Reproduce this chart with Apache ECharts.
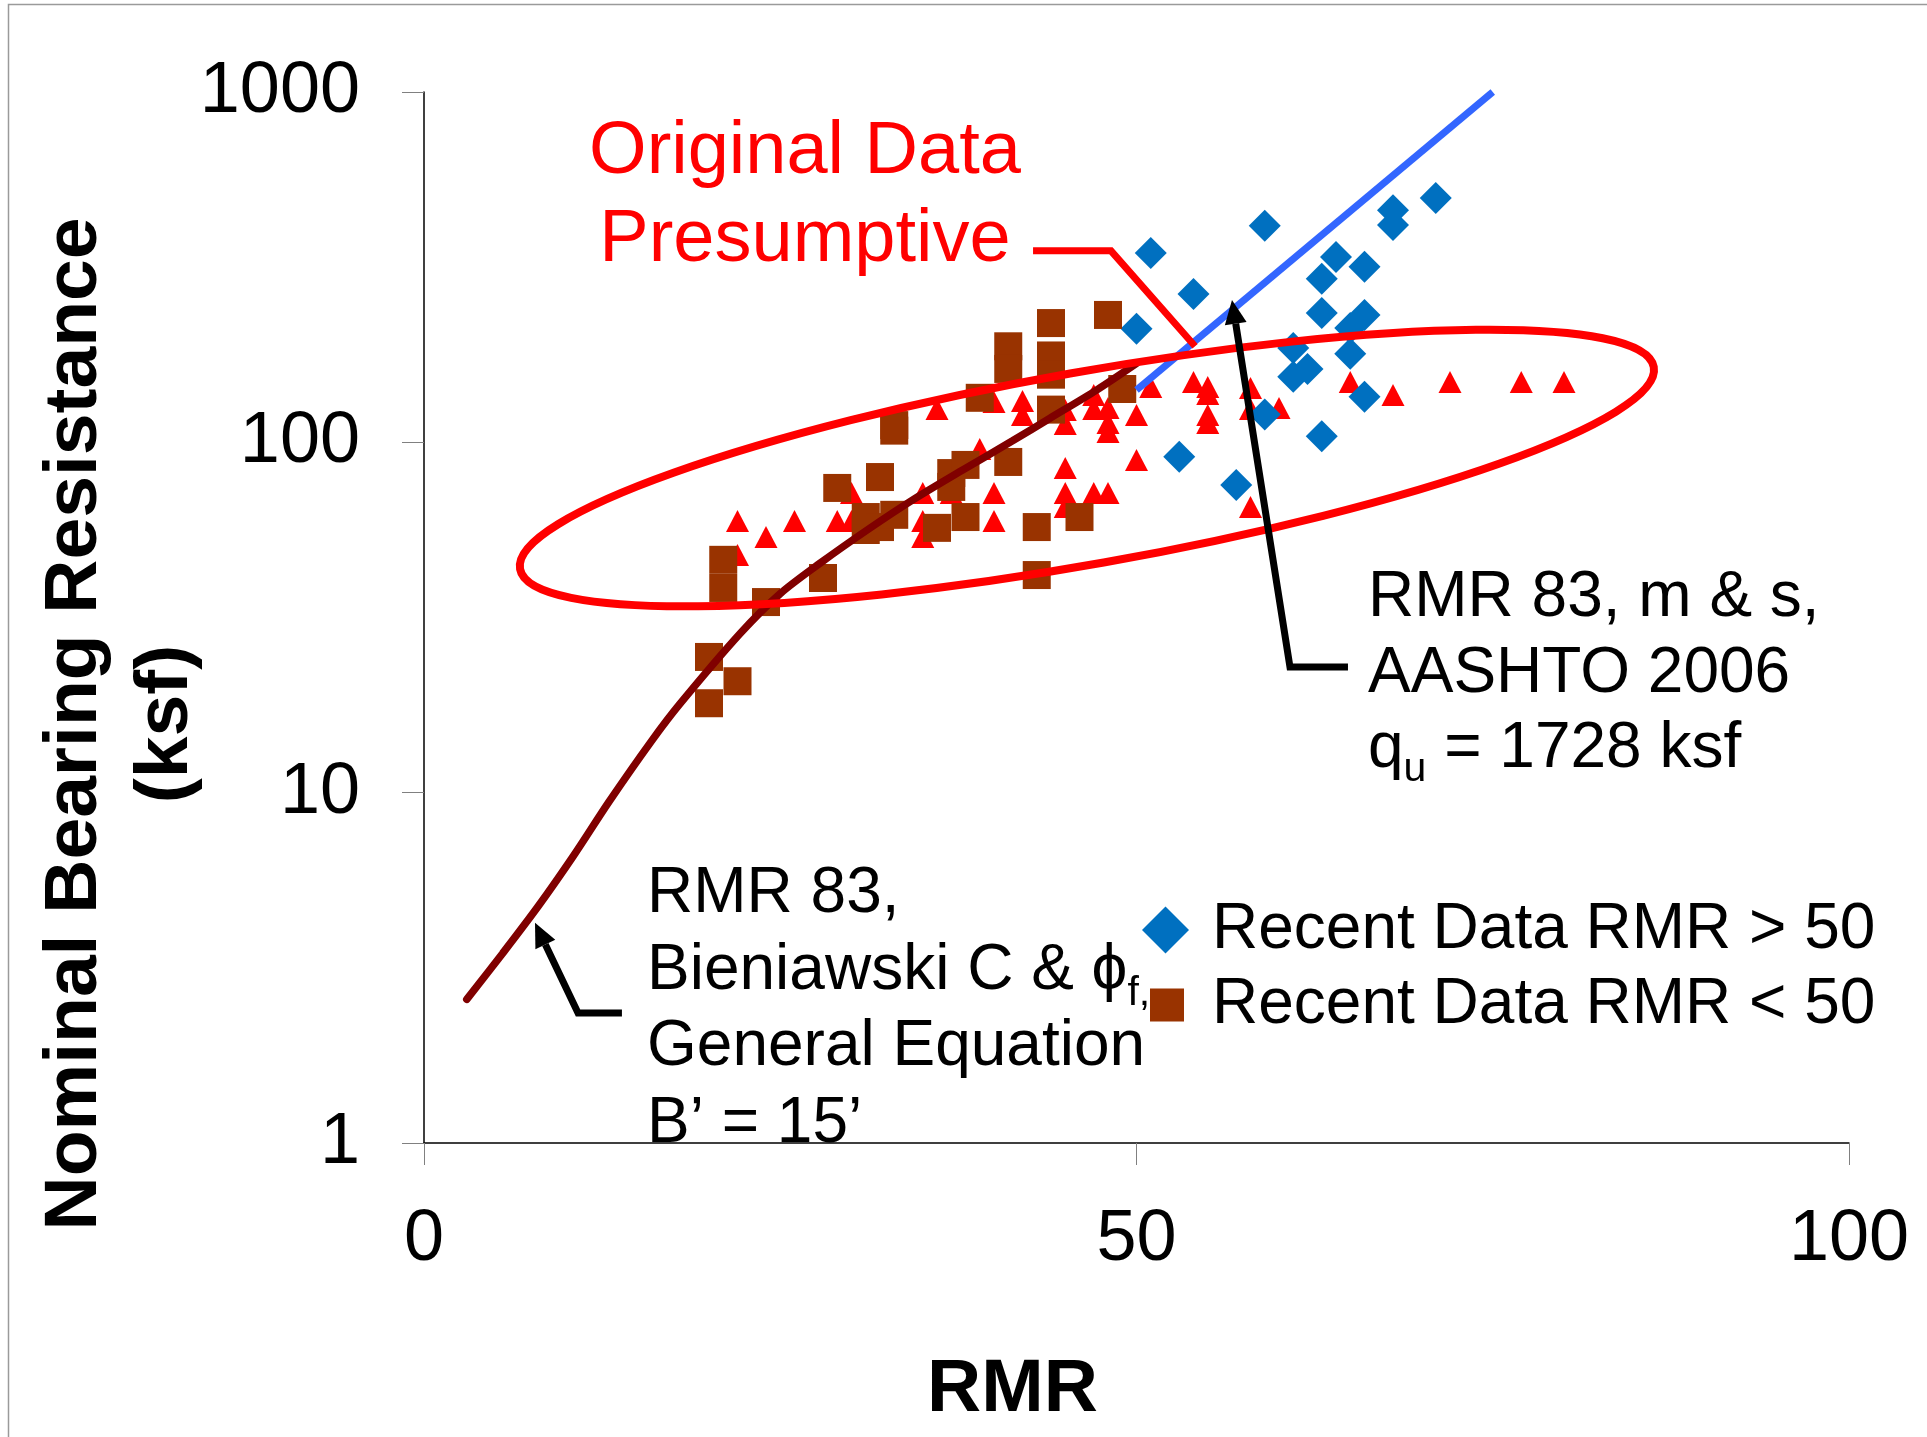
<!DOCTYPE html>
<html>
<head>
<meta charset="utf-8">
<title>Nominal Bearing Resistance vs RMR</title>
<script src="https://cdn.jsdelivr.net/npm/echarts@6/dist/echarts.min.js"></script>
<style>
html,body{margin:0;padding:0;background:#ffffff;}
#chart{width:1927px;height:1437px;}
</style>
</head>
<body>
<div id="chart"></div>
<script>
// ---------------- data ----------------
const xTickValues = [0, 50, 100];
const yTickValues = [1, 10, 100, 1000];

// Recent Data RMR > 50 (blue diamonds)
const recentHighRMR = [51, 59, 54, 50, 71, 68, 68, 64, 66, 63, 63, 66, 65, 61, 65, 62, 61, 66, 59, 63, 53, 57];
const recentHighQ   = [347, 415, 265, 211, 498, 460, 417, 338, 317, 293, 234, 231, 212, 186, 179, 162, 154, 135, 120, 104, 91, 75.5];

// Recent Data RMR < 50 (brown squares)
const recentLowRMR = [20, 22, 20, 21, 21, 24, 28, 29, 32, 33, 33, 31, 31, 32, 33, 36, 37, 37, 38, 38, 39, 41, 41, 41, 43, 43, 44, 44, 44, 44, 46, 48, 49];
const recentLowQ   = [24.4, 20.8, 18.0, 46.2, 38.4, 35.0, 41.0, 74.1, 79.6, 112, 108, 61.2, 56.2, 57.3, 62.1, 57, 81.7, 74.6, 86.2, 61.2, 134, 188, 162, 87.9, 57.3, 41.8, 219, 177, 156, 124, 61.2, 231, 142];

// Original Data Presumptive (red triangles)
const originalRMR = [22, 24, 22, 26, 29, 30, 30, 35, 35, 35, 37, 39, 40, 40, 36, 40, 42, 42, 45, 45, 47, 47, 48, 48, 48, 50, 51, 54, 55, 55, 55, 55, 58, 58, 60, 65, 68, 50, 45, 45, 47, 48, 45, 58, 72, 77, 80];
const originalQ   = [59.6, 53.7, 47.7, 59.6, 59.6, 71.7, 59.6, 71.7, 59.6, 53.7, 71.7, 95.7, 71.7, 59.6, 124.5, 130.4, 131.3, 119.7, 123.7, 112.8, 136.5, 124.5, 125.3, 113.5, 107.1, 119.7, 143.9, 148.7, 143.9, 137.4, 119.7, 113.5, 142.9, 124.5, 125.3, 148.7, 136.5, 89.1, 84.5, 71.7, 71.7, 71.7, 65.4, 65.4, 148.7, 148.7, 148.7];

// RMR 83, Bieniawski C & phi, General Equation, B' = 15' (dark red curve)
const generalEqRMR = [3, 5.5, 8, 10.5, 13, 16, 18, 22.2, 25, 27.8, 31.1, 34.3, 37.8, 41.3, 43.9, 47.2, 50];
const generalEqQ   = [2.57, 3.47, 4.73, 6.61, 9.44, 14.1, 18.0, 28.5, 37.0, 45.2, 56.2, 68.5, 83.4, 101, 117, 141, 168];

// RMR 83, m & s, AASHTO 2006 (blue line)
const aashtoRMR = [50, 75];
const aashtoQ   = [141, 1000];

// annotation anchors in data units (RMR, ksf)
const ellipseEnds   = [[6.74, 43.5], [86.3, 164]];
const calloutPath   = [[42.74, 352], [48.21, 352], [54.11, 188]];
const arrowAashto   = [[56.7, 255], [60.77, 22.85], [64.84, 22.85]];
const arrowGeneral  = [[7.79, 4.25], [10.81, 2.35], [13.89, 2.35]];

const nameHigh = 'Recent Data RMR > 50';
const nameLow  = 'Recent Data RMR < 50';

// ---------------- chart ----------------
const FONT = '"Liberation Sans", Arial, Helvetica, sans-serif';
const zip = (xs, ys) => xs.map((x, i) => [x, ys[i]]);

const chart = echarts.init(document.getElementById('chart'), null, {renderer: 'canvas'});

const option = {
  animation: false,
  backgroundColor: '#ffffff',
  grid: {left: 424, right: 78, top: 92, bottom: 294, containLabel: false, outerBoundsMode: 'none'},
  xAxis: {
    type: 'value', min: xTickValues[0], max: xTickValues[xTickValues.length - 1], interval: 50,
    name: 'RMR', nameLocation: 'middle', nameGap: 210, nameMoveOverlap: false,
    nameTextStyle: {fontFamily: FONT, fontSize: 75, fontWeight: 'bold', color: '#000', padding: [0, 248, 0, 0]},
    axisLine: {show: true, onZero: false, lineStyle: {color: '#000', width: 1.5}},
    axisTick: {show: true, length: 22, lineStyle: {color: '#808080', width: 1}},
    axisLabel: {margin: 61, fontFamily: FONT, fontSize: 72, color: '#000', formatter: (v) => String(v)},
    splitLine: {show: false}
  },
  yAxis: {
    type: 'log', logBase: 10, min: yTickValues[0], max: yTickValues[yTickValues.length - 1],
    name: 'Nominal Bearing Resistance\n(ksf)', nameLocation: 'middle', nameGap: 212, nameRotate: 90,
    nameMoveOverlap: false,
    nameTextStyle: {fontFamily: FONT, fontSize: 75, fontWeight: 'bold', color: '#000', lineHeight: 91, padding: [0, 213, 0, 0]},
    axisLine: {show: true, onZero: false, lineStyle: {color: '#000', width: 1.5}},
    axisTick: {show: true, length: 22, lineStyle: {color: '#808080', width: 1}},
    axisLabel: {margin: 64, fontFamily: FONT, fontSize: 72, color: '#000', formatter: (v) => String(Math.round(v))},
    splitLine: {show: false}
  },
  legend: [
    {
      data: [{name: nameHigh, icon: 'diamond'}], orient: 'horizontal', left: 1142, top: 898, padding: 0,
      itemWidth: 47, itemHeight: 47, selectedMode: false,
      textStyle: {fontFamily: FONT, fontSize: 64, color: '#000', padding: [0, 0, 0, 18]}
    },
    {
      data: [{name: nameLow, icon: 'rect'}], orient: 'horizontal', left: 1150, top: 973, padding: 0,
      itemWidth: 34, itemHeight: 33, selectedMode: false,
      textStyle: {fontFamily: FONT, fontSize: 64, color: '#000', padding: [0, 0, 0, 23]}
    }
  ],
  series: [
    {
      name: 'General Equation', type: 'line', data: zip(generalEqRMR, generalEqQ),
      showSymbol: false, smooth: 0.3,
      lineStyle: {color: '#800000', width: 7.5, cap: 'round'}, silent: true
    },
    {
      name: 'AASHTO 2006', type: 'line', data: zip(aashtoRMR, aashtoQ),
      showSymbol: false, lineStyle: {color: '#3366FF', width: 7}, silent: true
    },
    {
      name: 'Original Data Presumptive', type: 'scatter', data: zip(originalRMR, originalQ),
      symbol: 'triangle', symbolSize: [23, 22], itemStyle: {color: '#FF0000', opacity: 1}
    },
    {
      name: nameHigh, type: 'scatter', data: zip(recentHighRMR, recentHighQ),
      symbol: 'diamond', symbolSize: [32, 32], itemStyle: {color: '#0070C0', opacity: 1}
    },
    {
      name: nameLow, type: 'scatter', data: zip(recentLowRMR, recentLowQ),
      symbol: 'rect', symbolSize: [28, 28], itemStyle: {color: '#993300', opacity: 1}
    }
  ]
};
chart.setOption(option);

// ---------------- annotations ----------------
const P = (p) => chart.convertToPixel({xAxisIndex: 0, yAxisIndex: 0}, p);
const mctx = document.createElement('canvas').getContext('2d');
const measure = (t, f) => { mctx.font = f; return mctx.measureText(t).width; };
const mid = (baseline, fs) => baseline - 0.3465 * fs;

function txt(x, y, text, font, color, align, z) {
  return {type: 'text', x: x, y: y, z: z || 30, silent: true,
    style: {text: text, font: font, fill: color, textAlign: align || 'left', textVerticalAlign: 'middle'}};
}

function arrow(dataPts, color, w, headLen, headHalf) {
  const pts = dataPts.map(P);
  const [tx, ty] = pts[0], [nx, ny] = pts[1];
  const d = Math.hypot(nx - tx, ny - ty);
  const ux = (nx - tx) / d, uy = (ny - ty) / d;
  const bx = tx + ux * headLen, by = ty + uy * headLen;
  return [
    {type: 'polyline', z: 25, silent: true, shape: {points: [[bx, by]].concat(pts.slice(1))},
      style: {stroke: color, lineWidth: w, lineJoin: 'miter', lineCap: 'butt'}},
    {type: 'polygon', z: 25, silent: true,
      shape: {points: [[tx, ty], [bx - uy * headHalf, by + ux * headHalf], [bx + uy * headHalf, by - ux * headHalf]]},
      style: {fill: color}}
  ];
}

const L = P(ellipseEnds[0]), R = P(ellipseEnds[1]);
const ang = Math.atan2(R[1] - L[1], R[0] - L[0]);
const semiMajor = Math.hypot(R[0] - L[0], R[1] - L[1]) / 2;

const fsA = 64, fontA = fsA + 'px ' + FONT, fontSub = '41px ' + FONT;
const fsT = 74, fontT = fsT + 'px ' + FONT;

const gx = 647;
const lineB2 = 992;
const part2 = 'Bieniawski C & \u03D5';
const rx = 1368;
const q = 'q';

const graphics = [
  {type: 'polyline', z: 1, silent: true, shape: {points: [[8.5, 1437], [8.5, 4.5], [1927, 4.5]]},
    style: {stroke: '#9a9a9a', lineWidth: 1.5}},
  {type: 'ellipse', z: 20, silent: true, x: (L[0] + R[0]) / 2, y: (L[1] + R[1]) / 2, rotation: -ang,
    shape: {cx: 0, cy: 0, rx: semiMajor, ry: 96}, style: {fill: null, stroke: '#FF0000', lineWidth: 8}},
  {type: 'polyline', z: 21, silent: true, shape: {points: calloutPath.map(P)},
    style: {stroke: '#FF0000', lineWidth: 7, lineJoin: 'miter'}},
  txt(805, mid(178, fsT), 'Original Data', fontT, '#FF0000', 'center'),
  txt(805, mid(266, fsT), 'Presumptive', fontT, '#FF0000', 'center'),

  txt(gx, mid(917, fsA), 'RMR 83,', fontA, '#000', 'left', 3),
  txt(gx, mid(lineB2 + 2, fsA), part2, fontA, '#000', 'left', 3),
  txt(gx + measure(part2, fontA), mid(lineB2 + 16, 41), 'f,', fontSub, '#000', 'left', 3),
  txt(gx, mid(1070, fsA), 'General Equation', fontA, '#000', 'left', 3),
  txt(gx, mid(1147, fsA), 'B\u2019 = 15\u2019', fontA, '#000', 'left', 3),

  txt(rx, mid(621, fsA), 'RMR 83, m & s,', fontA, '#000', 'left', 3),
  txt(rx, mid(697, fsA), 'AASHTO 2006', fontA, '#000', 'left', 3),
  txt(rx, mid(772, fsA), q, fontA, '#000', 'left', 3),
  txt(rx + measure(q, fontA), mid(772 + 12, 41), 'u', fontSub, '#000', 'left', 3),
  txt(rx + measure(q, fontA) + measure('u', fontSub), mid(772, fsA), ' = 1728 ksf', fontA, '#000', 'left', 3)
].concat(arrow(arrowAashto, '#000', 7, 24, 11), arrow(arrowGeneral, '#000', 7, 24, 11));

chart.setOption({graphic: {elements: graphics}});
</script>
</body>
</html>
